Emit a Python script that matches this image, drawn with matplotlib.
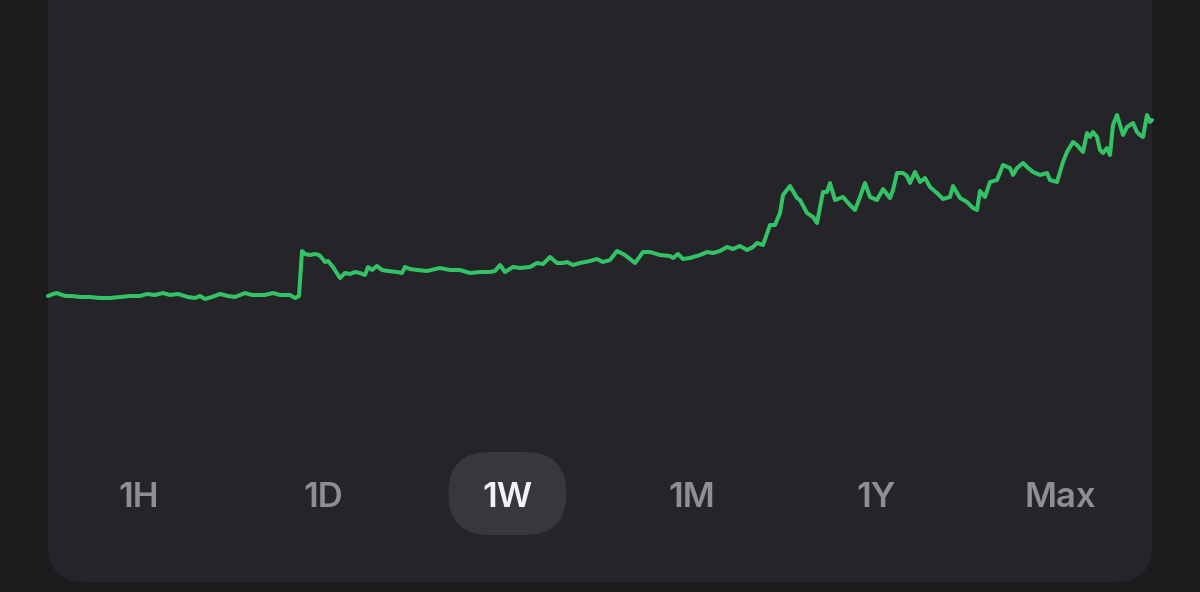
import matplotlib
matplotlib.use("Agg")
import matplotlib.pyplot as plt
from matplotlib.patches import FancyBboxPatch
from matplotlib.transforms import IdentityTransform
import numpy as np

# one week of prices, sampled along the chart
t = [0, 5, 9, 14, 18, 24, 32, 42, 52, 62, 72, 82, 92, 99, 107, 115, 122, 130, 140, 147,
     152, 157, 164, 172, 180, 187, 192, 197, 204, 210, 217, 225, 232, 242, 247, 251, 254, 257, 262, 267,
     271, 274, 277, 280, 285, 292, 297, 302, 307, 312, 317, 320, 324, 329, 334, 340, 349, 354, 357, 362,
     369, 379, 392, 402, 412, 422, 432, 442, 447, 452, 457, 465, 472, 482, 489, 495, 502, 509, 515, 519,
     525, 532, 542, 549, 555, 562, 569, 577, 587, 595, 602, 612, 622, 625, 630, 635, 642, 652, 659, 665,
     672, 679, 685, 692, 699, 705, 709, 715, 722, 727, 732, 735, 742, 749, 752, 759, 765, 769, 775, 779,
     782, 787, 795, 802, 807, 812, 817, 822, 829, 835, 842, 845, 849, 855, 859, 862, 867, 872, 877, 882,
     889, 895, 902, 905, 912, 919, 925, 929, 932, 937, 942, 949, 955, 962, 965, 969, 975, 979, 985, 992,
     999, 1002, 1009, 1015, 1019, 1025, 1029, 1035, 1039, 1042, 1045, 1049, 1052, 1055, 1059, 1062, 1065, 1069, 1072, 1075,
     1079, 1085, 1089, 1092, 1095, 1099, 1102, 1104]
price = [704, 706, 707, 705, 704, 704, 703, 703, 702, 702, 703, 704, 704, 706, 705, 707, 705, 706, 703, 702,
         704, 701, 703, 706, 704, 703, 705, 707, 705, 705, 705, 707, 705, 705, 702, 704, 749, 746, 745, 746,
         745, 742, 738, 739, 733, 722, 727, 726, 728, 727, 725, 733, 730, 734, 730, 729, 728, 727, 733, 731,
         730, 729, 732, 730, 730, 727, 728, 728, 729, 735, 728, 733, 732, 733, 737, 736, 743, 737, 737, 738,
         735, 737, 739, 741, 738, 740, 749, 745, 737, 748, 748, 745, 744, 742, 746, 741, 742, 745, 748, 747,
         749, 753, 751, 754, 750, 753, 757, 755, 775, 775, 787, 805, 814, 802, 800, 787, 783, 777, 808, 808,
         817, 800, 803, 795, 790, 803, 817, 803, 800, 811, 802, 810, 827, 827, 824, 817, 828, 818, 822, 813,
         807, 801, 803, 814, 802, 798, 792, 790, 809, 803, 818, 820, 835, 832, 825, 832, 837, 833, 828, 825,
         827, 820, 818, 838, 848, 858, 855, 848, 867, 863, 868, 863, 850, 847, 852, 845, 875, 885, 875, 865,
         873, 877, 868, 865, 863, 885, 878, 880]
ranges = ["1H", "1D", "1W", "1M", "1Y", "Max"]
selected = "1W"

assert len(t) == len(price)

W, H = 1200, 592
fig = plt.figure(figsize=(W / 100, H / 100), dpi=100, facecolor="#1c1c1f")
px = IdentityTransform()

# card
fig.add_artist(FancyBboxPatch((48, 10), 1104, 640,
                              boxstyle="round,pad=0,rounding_size=36",
                              transform=px, facecolor="#252429", edgecolor="none",
                              zorder=-2))

ax = fig.add_axes([48 / W, (H - 420) / H, 1104 / W, 420 / H])
ax.set_zorder(2)
ax.set_facecolor("none")
ax.plot(t, price, color="#33c265", linewidth=2.9, solid_joinstyle="round",
        solid_capstyle="round", clip_on=False)
ax.set_xlim(0, 1104)
ax.set_ylim(580, 1000)
ax.axis("off")

# range selector
xs = np.linspace(139, 1060, len(ranges))
for x, label in zip(xs, ranges):
    if label == selected:
        fig.add_artist(FancyBboxPatch((x - 59, 57), 118, 83,
                                      boxstyle="round,pad=0,rounding_size=41",
                                      transform=px, facecolor="#38383c", edgecolor="none",
                                      zorder=-1))
    fig.text(x / W, (H - 507) / H, label, ha="center", va="baseline",
             fontsize=25, family=["Inter", "DejaVu Sans"], fontweight="semibold",
             color="#f2f2f4" if label == selected else "#8e8e93")

fig.savefig("out.png", dpi=100, facecolor=fig.get_facecolor())
